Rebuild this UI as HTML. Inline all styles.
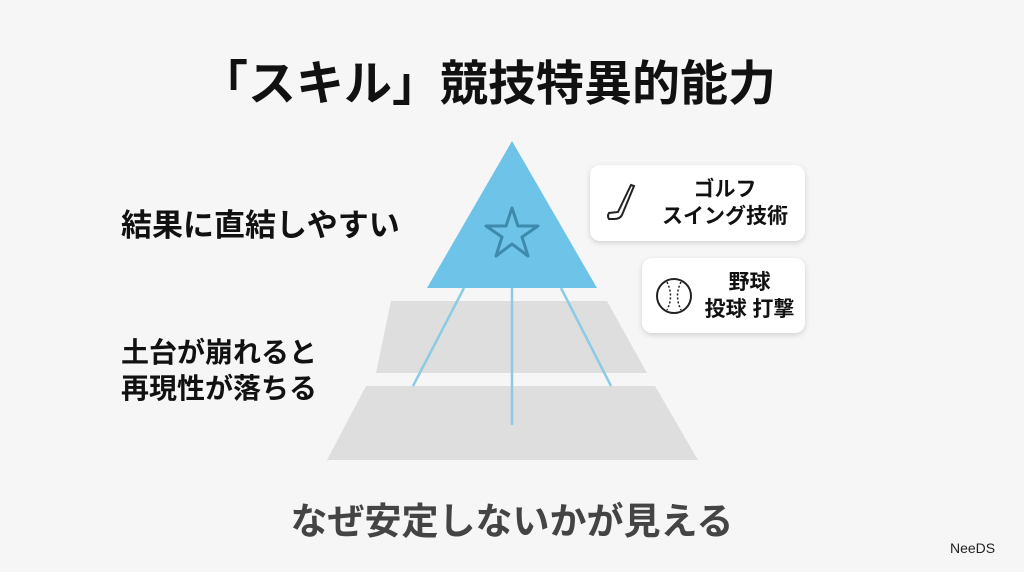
<!DOCTYPE html>
<html><head><meta charset="utf-8"><style>
body{margin:0;width:1024px;height:572px;background:#f6f6f6;position:relative;overflow:hidden;font-family:"Liberation Sans","Noto Sans CJK JP",sans-serif;}
.t{position:absolute;white-space:nowrap;font-weight:bold;}
.box{position:absolute;background:#fff;border-radius:10px;box-shadow:0 2px 6px rgba(0,0,0,0.15);}
</style></head><body>
<div class="t" style="left:-24px;width:1024px;text-align:center;top:44px;font-size:48px;color:#111;">「スキル」競技特異的能力</div>
<svg width="1024" height="572" style="position:absolute;left:0;top:0">
<polygon points="512,141 427,288 597,288" fill="#6ec3e8"/>
<polygon points="391,301 607,301 647,373 376,373" fill="#dedede"/>
<polygon points="366,386 655,386 698,460 327,460" fill="#dedede"/>
<g stroke="#8ccbe6" stroke-width="2.5">
<line x1="464" y1="288" x2="413" y2="386"/>
<line x1="512" y1="288" x2="512" y2="425"/>
<line x1="561" y1="288" x2="611" y2="386"/>
</g>
<polygon points="512,208 518,226 538,226 522,237 528,256 512,244 496,256 502,237 486,226 506,226" fill="none" stroke="#3d8aac" stroke-width="3" stroke-linejoin="round"/>
</svg>
<div class="t" style="left:121px;top:200px;font-size:31px;color:#111;">結果に直結しやすい</div>
<div class="t" style="left:121px;top:335px;font-size:28px;color:#111;line-height:36px;">土台が崩れると<br>再現性が落ちる</div>
<div class="box" style="left:590px;top:165px;width:215px;height:76px;">
<svg width="40" height="40" style="position:absolute;left:14px;top:18px" viewBox="0 0 40 40"><path d="M30 3 L18 32 Q16 36 10 36 L5 36 Q3 33 5 30 L14 29 L27 2 Z" fill="none" stroke="#222" stroke-width="2"/></svg>
<div class="t" style="left:60px;width:150px;text-align:center;top:11px;font-size:21px;color:#111;line-height:27px;">ゴルフ<br>スイング技術</div></div>
<div class="box" style="left:642px;top:258px;width:163px;height:75px;">
<svg width="40" height="40" style="position:absolute;left:12px;top:18px" viewBox="0 0 40 40"><circle cx="20" cy="20" r="17" fill="none" stroke="#222" stroke-width="2"/><path d="M13 6 Q20 20 13 34 M27 6 Q20 20 27 34" fill="none" stroke="#222" stroke-width="1.5" stroke-dasharray="2 2"/></svg>
<div class="t" style="left:55px;width:105px;text-align:center;top:11px;font-size:21px;color:#111;line-height:27px;">野球<br>投球 打撃</div></div>
<div class="t" style="left:0;width:1024px;text-align:center;top:491px;font-size:37px;color:#444;">なぜ安定しないかが見える</div>
<div style="position:absolute;left:950px;top:540px;font-size:14px;color:#222;">NeeDS</div>
</body></html>
